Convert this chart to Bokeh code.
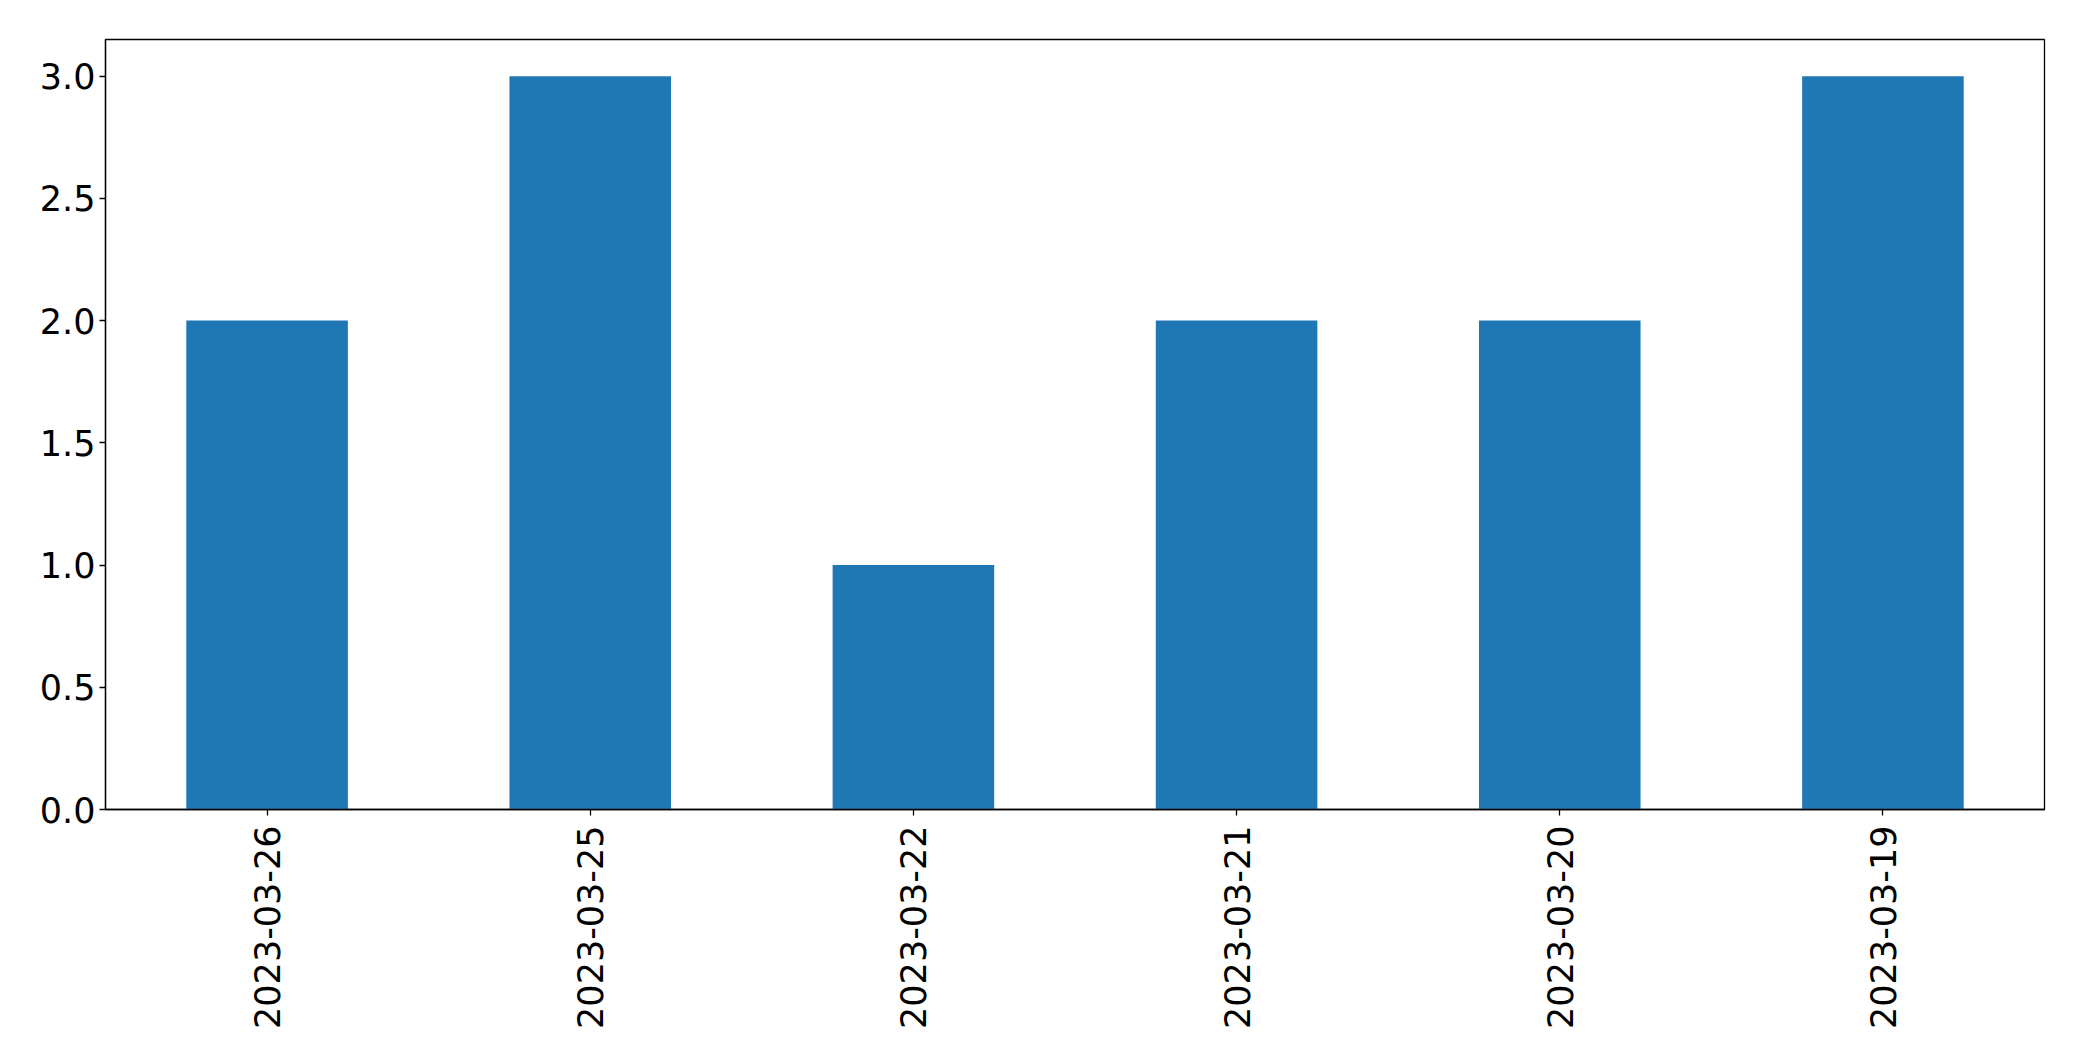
import math
from bokeh.plotting import figure
from bokeh.models import FactorRange, Range1d, FixedTicker, PrintfTickFormatter, ColumnDataSource
from bokeh.embed import file_html
from bokeh.resources import INLINE

dates = ["2023-03-26", "2023-03-25", "2023-03-22", "2023-03-21", "2023-03-20", "2023-03-19"]
counts = [2, 3, 1, 2, 2, 3]
y_ticks = [0.0, 0.5, 1.0, 1.5, 2.0, 2.5, 3.0]

src = ColumnDataSource(dict(date=dates, count=counts))

p = figure(
    width=2066, height=1045,
    x_range=FactorRange(factors=dates, range_padding=0.0),
    y_range=Range1d(0, 3.15),
    output_backend="svg", toolbar_location=None,
    min_border_left=105, min_border_right=22, min_border_top=39, min_border_bottom=236,
)

p.vbar(x="date", top="count", width=0.5, source=src, fill_color="#1f77b4", line_color=None)

p.xgrid.visible = False
p.ygrid.visible = False
p.outline_line_color = "black"
p.outline_line_width = 1.3
p.outline_line_alpha = 1.0

for ax in (p.xaxis[0], p.yaxis[0]):
    ax.axis_line_color = "black"
    ax.axis_line_width = 1.3
    ax.major_tick_line_color = "black"
    ax.major_tick_line_width = 1.3
    ax.major_tick_out = 6
    ax.major_tick_in = 0
    ax.minor_tick_line_color = None
    ax.major_label_text_font = "DejaVu Sans"
    ax.major_label_text_font_size = "35px"
    ax.major_label_text_color = "black"

p.yaxis[0].major_label_standoff = 4
p.xaxis[0].major_label_standoff = 10
p.yaxis[0].ticker = FixedTicker(ticks=y_ticks)
p.yaxis[0].formatter = PrintfTickFormatter(format="%.1f")
p.xaxis[0].major_label_orientation = math.pi / 2

open("out.html", "w").write(file_html(p, INLINE))
